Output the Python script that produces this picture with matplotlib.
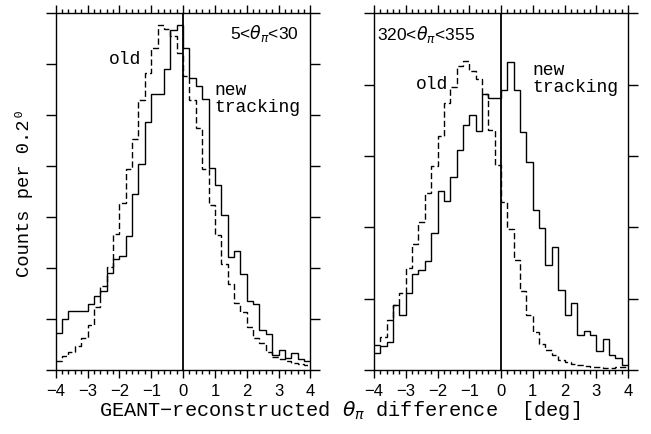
import numpy as np
import matplotlib
matplotlib.use('Agg')
import matplotlib.pyplot as plt

# theta difference bins, 0.2 deg wide
edges = np.linspace(-4, 4, 41)
xtick_vals = [-4, -3, -2, -1, 0, 1, 2, 3, 4]

# 5 < theta_pi < 30
new_fwd = [0.74, 1.00, 1.16, 1.16, 1.16, 1.30, 1.46, 1.56, 1.90, 2.19,
           2.25, 2.63, 3.45, 4.05, 4.86, 5.41, 5.41, 5.91, 6.67, 6.77,
           6.31, 5.72, 5.57, 5.31, 3.97, 3.63, 3.05, 2.22, 2.33, 1.89,
           1.36, 1.31, 0.80, 0.72, 0.31, 0.41, 0.25, 0.35, 0.22, 0.18]
old_fwd = [0.18, 0.28, 0.36, 0.48, 0.64, 0.90, 1.24, 1.65, 2.03, 2.68,
           3.27, 3.95, 4.53, 5.29, 5.82, 6.31, 6.77, 6.69, 6.55, 6.22,
           5.77, 5.29, 4.75, 3.95, 3.25, 2.66, 2.09, 1.70, 1.32, 1.14,
           0.86, 0.64, 0.53, 0.37, 0.27, 0.22, 0.18, 0.14, 0.12, 0.10]

# 320 < theta_pi < 355
new_bwd = [0.25, 0.34, 0.40, 0.91, 0.77, 1.08, 1.35, 1.41, 1.53, 1.93,
           2.51, 2.37, 2.71, 3.08, 3.43, 3.57, 3.35, 3.87, 3.81, 3.81,
           3.92, 4.32, 3.93, 3.34, 2.91, 2.25, 1.99, 1.47, 1.73, 1.13,
           0.77, 0.95, 0.50, 0.55, 0.50, 0.27, 0.44, 0.21, 0.17, 0.07]
old_bwd = [0.36, 0.47, 0.71, 0.91, 1.09, 1.44, 1.77, 2.07, 2.48, 2.86,
           3.28, 3.74, 3.97, 4.26, 4.33, 4.19, 4.08, 3.87, 3.36, 2.87,
           2.36, 1.98, 1.55, 1.11, 0.77, 0.54, 0.37, 0.28, 0.21, 0.15,
           0.12, 0.09, 0.07, 0.06, 0.05, 0.05, 0.04, 0.04, 0.05, 0.05]

mono = ['Liberation Mono', 'DejaVu Sans Mono']
sans = 'Liberation Sans'

fig = plt.figure(figsize=(6.51, 4.35), dpi=100)
ax1 = fig.add_axes([0.0856, 0.146, 0.3912, 0.8218])
ax2 = fig.add_axes([0.5745, 0.146, 0.3902, 0.8218])

for ax, new, old, ymax in [(ax1, new_fwd, old_fwd, 7), (ax2, new_bwd, old_bwd, 5)]:
    ax.stairs(new, edges, color='k', lw=1.0, baseline=None)
    ax.stairs(old, edges, color='k', lw=1.0, ls=(0, (4.5, 2.2)), baseline=None)
    ax.axvline(0, color='k', lw=1.3)
    ax.set_xlim(-4, 4)
    ax.set_ylim(0, ymax)
    ax.set_xticks(xtick_vals)
    ax.set_xticklabels(['\u2212%d' % -v if v < 0 else '%d' % v for v in xtick_vals],
                       family=sans, size=12)
    ax.set_xticks(np.arange(-4, 4.01, 0.2), minor=True)
    ax.set_yticks(range(ymax + 1))
    ax.set_yticklabels([])
    ax.tick_params(axis='x', which='both', direction='out', top=True, bottom=True,
                   width=1.0, pad=3)
    ax.tick_params(axis='x', which='major', length=6)
    ax.tick_params(axis='x', which='minor', length=3)
    ax.tick_params(axis='y', which='major', direction='out', left=True, right=True,
                   length=7.2, width=1.0)
    for s in ax.spines.values():
        s.set_linewidth(1.0)

# labels on the panels
ax1.text(3.62, 6.61, '5<$\\theta_\\pi$<30', ha='right', va='center', family=sans, size=12.5)
ax1.text(-1.81, 6.1, 'old', ha='center', va='center', family=mono, size=13)
ax1.text(0.98, 5.33, 'new\ntracking', ha='left', va='center', family=mono, size=13,
         linespacing=1.0)

ax2.text(-3.89, 4.71, '320<$\\theta_\\pi$<355', ha='left', va='center', family=sans, size=12.5)
ax2.text(-2.16, 4.02, 'old', ha='center', va='center', family=mono, size=13)
ax2.text(0.98, 4.09, 'new\ntracking', ha='left', va='center', family=mono, size=13,
         linespacing=1.0)

ax1.set_ylabel('Counts per 0.2\u2070', family=mono, size=13.5, labelpad=6)
fig.text(340 / 651, 1 - 411 / 435, 'GEANT\u2212reconstructed $\\theta_\\pi$ difference  [deg]',
         ha='center', va='center', family=mono, size=14.6)

fig.savefig('out.png', dpi=100)
